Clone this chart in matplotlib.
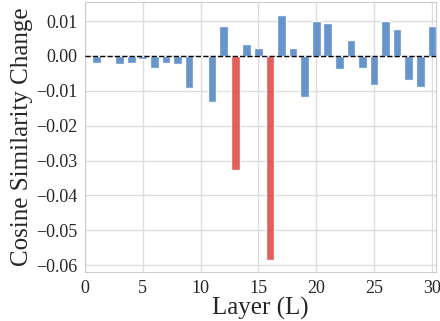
import matplotlib

matplotlib.use("Agg")
import matplotlib.pyplot as plt
import numpy as np
import seaborn as sns

layers = np.arange(1, 31)
changes = [
    -0.0019, -0.0004, -0.0024, -0.0019, -0.0010, -0.0034, -0.0019, -0.0024, -0.0093, 0.0000,
    -0.0133, 0.0085, -0.0326, 0.0033, 0.0022, -0.0584, 0.0118, 0.0022, -0.0117, 0.0099,
    0.0094, -0.0038, 0.0047, -0.0034, -0.0083, 0.0099, 0.0077, -0.0069, -0.0088, 0.0085,
]
highlight = [13, 16]

sns.set_style("whitegrid")
plt.rcParams["font.family"] = ["Liberation Serif", "DejaVu Serif"]
plt.rcParams["axes.unicode_minus"] = True

fig, ax = plt.subplots(figsize=(4.4, 3.21), dpi=100)

colors = ["#e0524d" if l in highlight else "#5b8bc8" for l in layers]
ax.bar(layers, changes, width=0.75, color=colors, alpha=0.92, zorder=3)
ax.axhline(0, color="black", linestyle="--", linewidth=1.0, zorder=4)

ax.set_xlim(0, 30.4)
ax.set_ylim(-0.062, 0.0155)
ax.set_xticks(np.arange(0, 31, 5))
ax.set_yticks([0.01, 0.0, -0.01, -0.02, -0.03, -0.04, -0.05, -0.06])
ax.yaxis.set_major_formatter(matplotlib.ticker.FuncFormatter(lambda v, _: f"{v:.2f}".replace("-", "\u2212")))
ax.tick_params(labelsize=13, pad=2)
ax.set_xlabel("Layer (L)", fontsize=18, labelpad=0)
ax.set_ylabel("Cosine Similarity Change", fontsize=18, labelpad=2)
ax.grid(True, color="#dddddd", linewidth=1.0)
for s in ax.spines.values():
    s.set_color("#cccccc")

fig.subplots_adjust(left=0.193, right=0.992, top=0.994, bottom=0.152)
fig.savefig("out.png", dpi=100)
